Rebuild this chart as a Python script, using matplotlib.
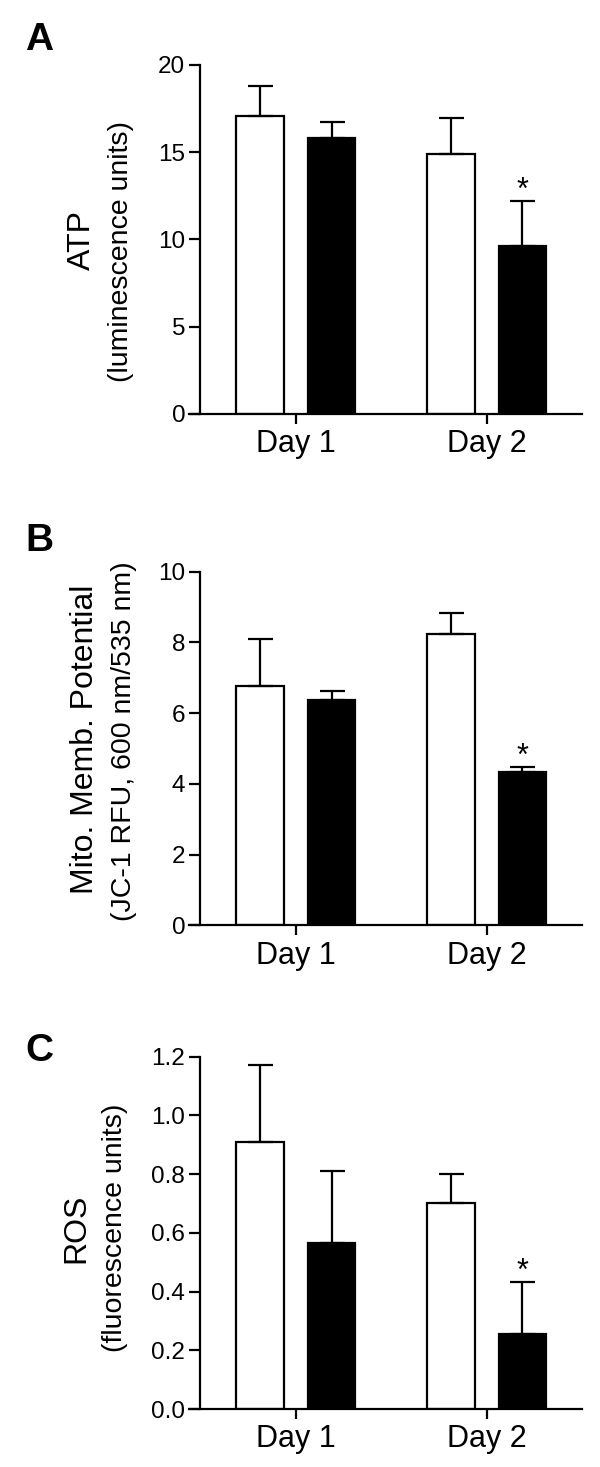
import matplotlib
matplotlib.use("Agg")
import matplotlib.pyplot as plt

plt.rcParams['font.family'] = ['Liberation Sans', 'DejaVu Sans']

days = ['Day 1', 'Day 2']

# panel A - ATP
atp_ctrl = [17.05, 14.9]
atp_ctrl_err = [1.72, 2.05]
atp_trt = [15.8, 9.6]
atp_trt_err = [0.95, 2.62]

# panel B - mitochondrial membrane potential
mmp_ctrl = [6.77, 8.24]
mmp_ctrl_err = [1.32, 0.60]
mmp_trt = [6.37, 4.34]
mmp_trt_err = [0.26, 0.15]

# panel C - ROS
ros_ctrl = [0.908, 0.700]
ros_ctrl_err = [0.264, 0.100]
ros_trt = [0.567, 0.254]
ros_trt_err = [0.244, 0.180]

W, H = 600, 1467
fig = plt.figure(figsize=(W / 100, H / 100), dpi=100)

LW = 1.6


def px(x, y):
    return x / W, 1 - y / H


def panel(rect, ctrl, ctrl_err, trt, trt_err, ymax, yticks, fmt,
          letter, letter_xy, title, title_xy, sub, sub_xy):
    ax = fig.add_axes(rect)
    # spine position first: it resets tick styling
    ax.spines['top'].set_visible(False)
    ax.spines['right'].set_visible(False)
    ax.spines['left'].set_position(('data', 0))
    for s in ['left', 'bottom']:
        ax.spines[s].set_linewidth(LW)

    pos = [1, 3]
    x_c = [p - 0.375 for p in pos]
    x_t = [p + 0.375 for p in pos]
    ekw = dict(ecolor='black', elinewidth=LW, capsize=9, capthick=LW)
    ax.bar(x_c, ctrl, width=0.5, color='white', edgecolor='black',
           linewidth=LW, yerr=[[0, 0], ctrl_err], error_kw=ekw, zorder=2)
    ax.bar(x_t, trt, width=0.5, color='black', edgecolor='black',
           linewidth=LW, yerr=[[0, 0], trt_err], error_kw=ekw, zorder=2)
    # significance star over day 2 treated
    ax.annotate('*', (x_t[1], trt[1] + trt_err[1]), xytext=(0, 1),
                textcoords='offset points', ha='center', va='baseline',
                fontsize=22)
    ax.set_xlim(-0.12, 4.0)
    ax.set_ylim(0, ymax)
    ax.set_xticks(pos)
    ax.set_xticklabels(days, fontsize=22)
    ax.set_yticks(yticks)
    ax.set_yticklabels([fmt.format(v) for v in yticks], fontsize=17.5)
    ax.tick_params(axis='y', length=8, width=LW, pad=3)
    ax.tick_params(axis='x', length=7, width=LW, pad=4)
    fig.text(*px(*letter_xy), letter, fontsize=28, fontweight='bold',
             ha='center', va='center')
    fig.text(*px(*title_xy), title, fontsize=23, rotation=90,
             ha='center', va='center')
    fig.text(*px(*sub_xy), sub, fontsize=20.5, rotation=90,
             ha='center', va='center')
    return ax


panel([0.315, 1 - 414 / H, 0.655, 349 / H], atp_ctrl, atp_ctrl_err,
      atp_trt, atp_trt_err, 20, [0, 5, 10, 15, 20], '{:.0f}',
      'A', (39, 40), 'ATP', (82, 240), '(luminescence units)', (121, 252))

panel([0.315, 1 - 925.3 / H, 0.655, 353.6 / H], mmp_ctrl, mmp_ctrl_err,
      mmp_trt, mmp_trt_err, 10, [0, 2, 4, 6, 8, 10], '{:.0f}',
      'B', (39, 541), 'Mito. Memb. Potential', (85, 739),
      '(JC-1 RFU, 600 nm/535 nm)', (124, 741))

panel([0.315, 1 - 1409 / H, 0.655, 352.3 / H], ros_ctrl, ros_ctrl_err,
      ros_trt, ros_trt_err, 1.2, [0.0, 0.2, 0.4, 0.6, 0.8, 1.0, 1.2],
      '{:.1f}', 'C', (39, 1051), 'ROS', (76, 1228),
      '(fluorescence units)', (115, 1228))

fig.savefig('out.png', dpi=100)
